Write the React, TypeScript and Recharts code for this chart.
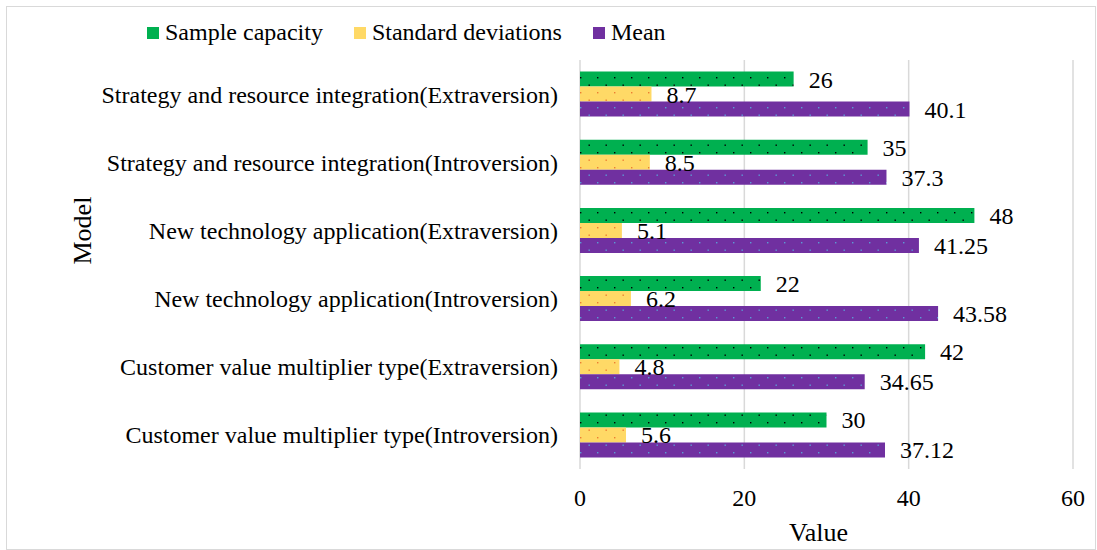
import React from 'react';
import { BarChart, Bar, XAxis, YAxis, CartesianGrid, LabelList } from 'recharts';

// values, top row first
const models = [
  'Strategy and resource integration(Extraversion)',
  'Strategy and resource integration(Introversion)',
  'New technology application(Extraversion)',
  'New technology application(Introversion)',
  'Customer value multiplier type(Extraversion)',
  'Customer value multiplier type(Introversion)',
];
const sampleCapacity = [26, 35, 48, 22, 42, 30];
const standardDeviations = [8.7, 8.5, 5.1, 6.2, 4.8, 5.6];
const means = [40.1, 37.3, 41.25, 43.58, 34.65, 37.12];
const xTicks = [0, 20, 40, 60];

const series = [
  { key: 'sample', name: 'Sample capacity', color: '#00b050', dot: '#000000', pattern: 'pat-green' },
  { key: 'sd', name: 'Standard deviations', color: '#ffd966', dot: '#ed7d31', pattern: 'pat-yellow' },
  { key: 'mean', name: 'Mean', color: '#7030a0', dot: '#5b9bd5', pattern: 'pat-purple' },
];

const data = models.map((name, i) => ({
  name,
  sample: sampleCapacity[i],
  sd: standardDeviations[i],
  mean: means[i],
}));

const FONT = '"Times New Roman", "Liberation Serif", serif';

const Patterns = () => (
  <svg width={0} height={0} style={{ position: 'absolute' }}>
    <defs>
      {series.map((s) => (
        <pattern key={s.pattern} id={s.pattern} patternUnits="userSpaceOnUse" width={17} height={15}>
          <rect width={17} height={15} fill={s.color} />
          <rect x={2} y={2} width={1.4} height={1.4} fill={s.dot} />
          <rect x={10.5} y={9.5} width={1.4} height={1.4} fill={s.dot} />
        </pattern>
      ))}
    </defs>
  </svg>
);

const App = () => {
  return (
    <div style={{ position: 'absolute', left: 0, top: 0, width: 1097, height: 550, background: '#fff', fontFamily: FONT }}>
      <Patterns />
      <div
        style={{
          position: 'absolute',
          left: 6,
          top: 6,
          width: 1088,
          height: 542,
          border: '1px solid #d9d9d9',
        }}
      />
      <div
        style={{
          position: 'absolute',
          left: 147,
          top: 19,
          display: 'flex',
          alignItems: 'center',
          fontSize: 24,
          color: '#000',
          whiteSpace: 'nowrap',
        }}
      >
        {series.map((s) => (
          <div key={s.key} style={{ display: 'flex', alignItems: 'center', marginRight: 31 }}>
            <span style={{ width: 12, height: 12, background: s.color, marginRight: 6, display: 'inline-block' }} />
            <span>{s.name}</span>
          </div>
        ))}
      </div>
      <BarChart
        width={1097}
        height={550}
        data={data}
        layout="vertical"
        margin={{ top: 60, right: 24, left: 10, bottom: 0 }}
        barCategoryGap="17%"
        barGap={0}
      >
        <CartesianGrid horizontal={false} stroke="#d9d9d9" strokeWidth={1.5} />
        <XAxis
          type="number"
          domain={[0, 60]}
          ticks={xTicks}
          axisLine={false}
          tickLine={false}
          tickSize={0}
          tickMargin={20}
          height={81}
          tick={{ fill: '#000', fontSize: 24, fontFamily: FONT }}
          label={{ value: 'Value', position: 'insideBottom', offset: 9, dx: -8, fill: '#000', fontSize: 26, fontFamily: FONT }}
        />
        <YAxis
          type="category"
          dataKey="name"
          width={570}
          axisLine={false}
          tickLine={false}
          tickSize={0}
          tickMargin={22}
          interval={0}
          tick={{ fill: '#000', fontSize: 24, fontFamily: FONT }}
          label={{ value: 'Model', angle: -90, position: 'insideLeft', offset: 72, fill: '#000', fontSize: 26, fontFamily: FONT }}
        />
        {series.map((s) => (
          <Bar key={s.key} dataKey={s.key} name={s.name} fill={`url(#${s.pattern})`} isAnimationActive={false}>
            <LabelList dataKey={s.key} position="right" offset={15} fill="#000" fontSize={24} fontFamily={FONT} />
          </Bar>
        ))}
      </BarChart>
    </div>
  );
};

export default App;
